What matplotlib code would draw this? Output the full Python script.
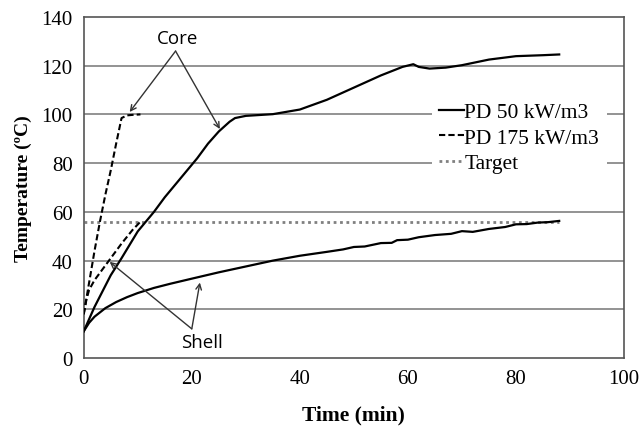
import matplotlib.pyplot as plt
import numpy as np

# PD 50 kW/m3, core and shell (min, degC)
t50_core = [0, 2, 5, 7, 10, 13, 15, 18, 21, 23, 25, 27, 28, 30, 35, 40, 45, 50, 55, 59, 61, 62, 64, 67, 70, 75, 80, 85, 88]
T50_core = [11, 21, 34, 41, 52, 60, 66, 74, 82, 88, 93, 97, 98.5, 99.4, 100.1, 102, 106, 111, 116, 119.5, 120.6, 119.5, 118.8, 119.2, 120.2, 122.5, 123.9, 124.3, 124.6]
t50_shell = [0, 1, 2, 4, 6, 8, 10, 13, 16, 20, 25, 30, 35, 40, 45, 48, 50, 52, 55, 57, 58, 60, 62, 65, 68, 70, 72, 75, 78, 80, 82, 84, 86, 88]
T50_shell = [11, 14.5, 17, 20.5, 23, 25, 26.7, 28.8, 30.5, 32.6, 35.2, 37.6, 40, 42, 43.6, 44.6, 45.6, 45.8, 47.2, 47.3, 48.4, 48.6, 49.6, 50.5, 51.0, 52.1, 51.8, 53.0, 53.8, 54.9, 55.0, 55.6, 55.8, 56.3]

# PD 175 kW/m3, core and shell
t175_core = [0, 1, 2, 3, 4, 5, 6, 7, 8, 9, 10.5]
T175_core = [18, 31, 44, 56, 67, 77, 88, 98.5, 99.6, 99.8, 100]
t175_shell = [0, 0.5, 1, 2, 3, 5, 7, 9, 10.5]
T175_shell = [18, 24, 28, 32, 35, 41, 47, 52.5, 56]

# target temperature
t_target = [0, 88]
T_target = [56, 56]

fig = plt.figure(figsize=(6.44, 4.27), dpi=100)
ax = fig.add_axes([0.130, 0.159, 0.839, 0.799])

serif = 'Liberation Serif'

for y in range(20, 140, 20):
    ax.axhline(y, color='#8a8a8a', lw=1.3, zorder=1)

ax.plot(t50_core, T50_core, color='black', lw=1.6, label='PD 50 kW/m3', zorder=3)
ax.plot(t50_shell, T50_shell, color='black', lw=1.6, zorder=3)
ax.plot(t175_core, T175_core, color='black', lw=1.5, ls=(0, (3, 1.5)), label='PD 175 kW/m3', zorder=3)
ax.plot(t175_shell, T175_shell, color='black', lw=1.5, ls=(0, (3, 1.5)), zorder=3)
ax.plot(t_target, T_target, color='#808080', lw=2, ls=(0, (1, 1.3)), label='Target', zorder=2)

ax.set_xlim(0, 100)
ax.set_ylim(0, 140)
ax.set_xticks(range(0, 101, 20))
ax.set_yticks(range(0, 141, 20))
ax.tick_params(length=0, pad=8, labelsize=15)
for lab in ax.get_xticklabels() + ax.get_yticklabels():
    lab.set_family(serif)
for s in ax.spines.values():
    s.set_color('#555555')
    s.set_linewidth(1.2)

ax.set_xlabel('Time (min)', family=serif, fontweight='bold', fontsize=15.5, labelpad=12)
ax.set_ylabel('Temperature (\u00baC)', family=serif, fontweight='bold', fontsize=14, labelpad=7)

# callouts
arrow = dict(arrowstyle='->', color='#333333', lw=1.0, shrinkA=0, shrinkB=0)
ax.text(17.3, 131.5, 'Core', ha='center', va='center', fontsize=13.5, family='Open Sans')
ax.annotate('', xy=(8.5, 101), xytext=(17, 126), arrowprops=arrow)
ax.annotate('', xy=(25.2, 94), xytext=(17, 126), arrowprops=arrow)
ax.text(21.8, 6.8, 'Shell', ha='center', va='center', fontsize=13.5, family='Open Sans')
ax.annotate('', xy=(4.8, 39.5), xytext=(20, 12), arrowprops=arrow)
ax.annotate('', xy=(21.5, 31), xytext=(20, 12), arrowprops=arrow)

leg = ax.legend(loc='upper left', bbox_to_anchor=(0.625, 0.80, 0.364, 0), mode='expand',
                frameon=True, fancybox=False, framealpha=1, edgecolor='none',
                handlelength=1.2, handletextpad=0.0, labelspacing=0.25,
                borderpad=0.3, prop={'family': serif, 'size': 15.5})
leg.set_zorder(4)

fig.savefig('out.png', dpi=100)
